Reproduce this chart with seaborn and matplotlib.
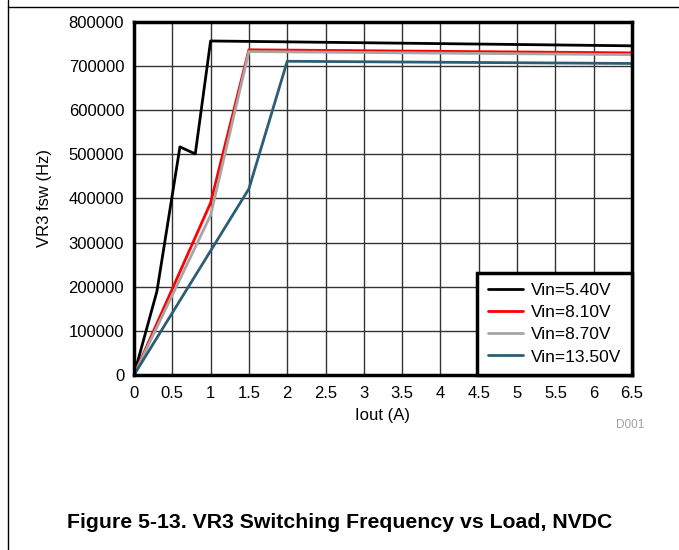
import pandas as pd
import seaborn as sns
import matplotlib.pyplot as plt
from matplotlib.lines import Line2D

# ------------------- data -------------------
series_names = ["Vin=5.40V", "Vin=8.10V", "Vin=8.70V", "Vin=13.50V"]
iout_54 = [0, 0.3, 0.6, 0.8, 1.0, 6.5]
fsw_54 = [0, 190000, 517000, 501000, 757000, 746000]
iout_81 = [0, 1.0, 1.5, 6.5]
fsw_81 = [0, 390000, 737000, 730000]
iout_87 = [0, 1.0, 1.5, 6.5]
fsw_87 = [0, 362000, 733000, 726000]
iout_135 = [0, 1.5, 2.0, 6.5]
fsw_135 = [0, 422000, 711000, 706000]
colors = ["#000000", "#ff0000", "#a6a6a6", "#2c5d77"]

frames = []
for name, xs, ys in zip(series_names,
                        [iout_54, iout_81, iout_87, iout_135],
                        [fsw_54, fsw_81, fsw_87, fsw_135]):
    frames.append(pd.DataFrame({"iout": xs, "fsw": ys, "vin": name}))
df = pd.concat(frames, ignore_index=True)

# ------------------- plot -------------------
sns.set_style("white")
plt.rcParams['font.family'] = ['Liberation Sans', 'DejaVu Sans']
plt.rcParams['text.color'] = 'black'
plt.rcParams['axes.labelcolor'] = 'black'
plt.rcParams['xtick.color'] = 'black'
plt.rcParams['ytick.color'] = 'black'

fig = plt.figure(figsize=(6.79, 5.5), dpi=100)
ax = fig.add_axes([0.1973, 0.3182, 0.7335, 0.6418])

sns.lineplot(data=df, x="iout", y="fsw", hue="vin", hue_order=series_names,
             palette=colors, sort=False, estimator=None, linewidth=2, ax=ax)

ax.set_xlim(0, 6.5)
ax.set_ylim(0, 800000)
ax.set_xticks([i * 0.5 for i in range(14)])
ax.set_xticklabels(["0", "0.5", "1", "1.5", "2", "2.5", "3", "3.5", "4",
                    "4.5", "5", "5.5", "6", "6.5"])
ax.set_yticks(range(0, 800001, 100000))
ax.ticklabel_format(axis="y", style="plain")
ax.tick_params(axis="y", labelsize=12, length=0, pad=7)
ax.tick_params(axis="x", labelsize=12, length=0, pad=8)
ax.grid(True, color="#333333", linewidth=1)
ax.set_axisbelow(True)
for s in ax.spines.values():
    s.set_linewidth(2.5)
    s.set_color("black")

ax.set_xlabel("Iout (A)", fontsize=12, labelpad=5)
ax.set_ylabel("VR3 fsw (Hz)", fontsize=12, labelpad=12)

leg = ax.legend(loc="lower right", fontsize=12.5, fancybox=False,
                frameon=True, borderaxespad=0, handlelength=2.0,
                handletextpad=0.5, labelspacing=0.4, borderpad=0.6)
leg.get_frame().set_edgecolor("black")
leg.get_frame().set_linewidth(2.5)
leg.get_frame().set_alpha(1)

fig.text(0.928, 0.222, "D001", color="#a0a0a0", fontsize=8.5, ha="center")
fig.text(0.5, 0.04, "Figure 5-13. VR3 Switching Frequency vs Load, NVDC",
         fontsize=15.3, fontweight="bold", ha="center")

# page frame lines
fig.add_artist(Line2D([8 / 679, 8 / 679], [0, 1], color="black", linewidth=1))
fig.add_artist(Line2D([8 / 679, 1], [1 - 7 / 550, 1 - 7 / 550], color="black", linewidth=1))

plt.savefig("out.png", dpi=100)
